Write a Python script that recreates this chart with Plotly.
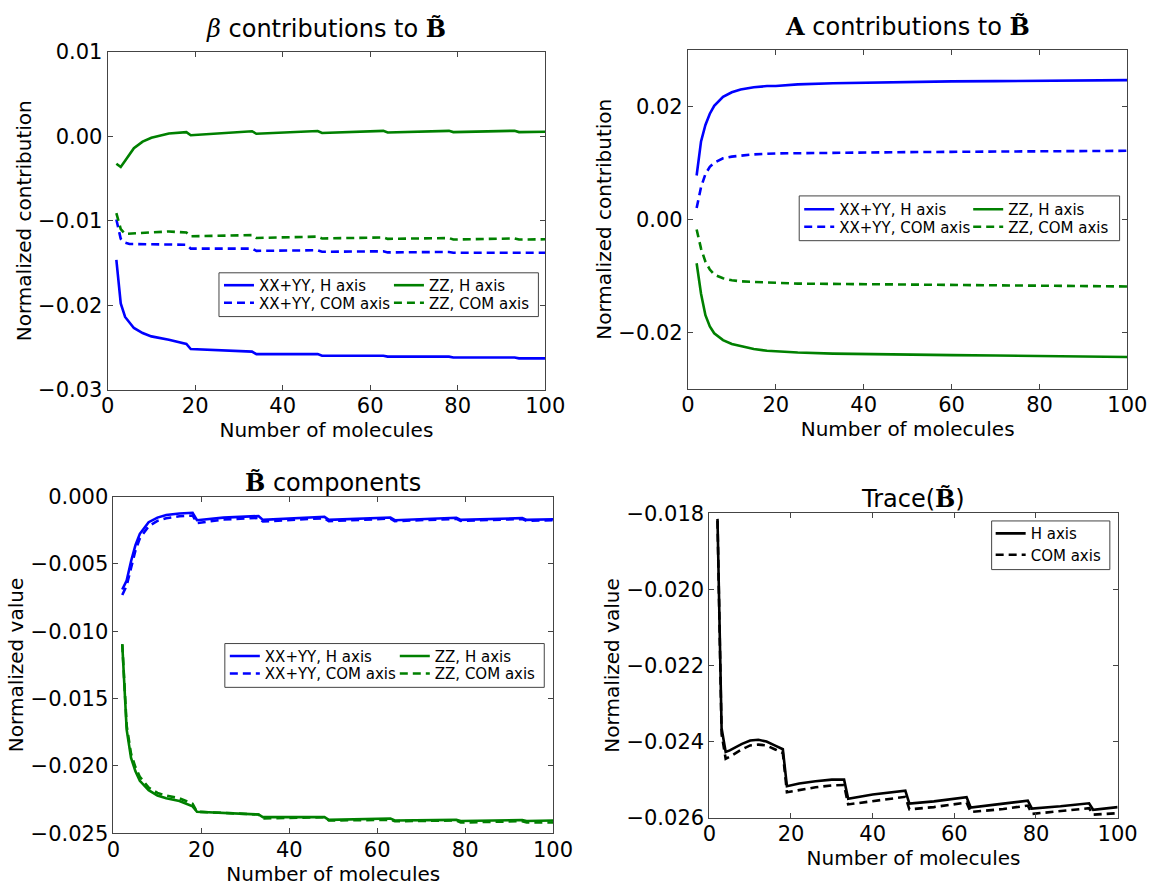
import plotly.graph_objects as go

W, H = 1165, 893
FONT = "DejaVu Sans"
BLUE, GREEN, BLACK = "#0000ff", "#008000", "#000000"

# ---------------- data ----------------
# Top-left: beta contributions
x_tl = [2, 3, 4, 5, 6, 8, 10, 14, 18, 19, 33, 34, 48, 49, 63, 64, 78, 79, 93, 94, 100]
tl_xxyy_h = [-0.01465, -0.0198, -0.0214, -0.0221, -0.0227, -0.0233, -0.0237, -0.0241, -0.0246, -0.0252,
             -0.0255, -0.0258, -0.0258, -0.0260, -0.0260, -0.0261, -0.0261, -0.0262, -0.0262, -0.0263, -0.0263]
tl_zz_h = [-0.00324, -0.00363, -0.0029, -0.0022, -0.0014, -0.00063, -0.00017, 0.00033, 0.0005, 0.00013,
           0.0006, 0.0003, 0.00063, 0.0004, 0.00065, 0.00045, 0.00065, 0.0005, 0.00066, 0.0005, 0.00055]
tl_xxyy_c = [-0.00985, -0.01215, -0.0126, -0.01276, -0.01276, -0.01276, -0.01276, -0.0128, -0.01284, -0.0133,
             -0.0133, -0.01357, -0.0135, -0.01368, -0.01362, -0.01375, -0.0137, -0.0138, -0.01375, -0.0138, -0.0138]
tl_zz_c = [-0.0091, -0.011, -0.01157, -0.01155, -0.0115, -0.01143, -0.01138, -0.01127, -0.0114, -0.01184,
           -0.0117, -0.01204, -0.01188, -0.0121, -0.01198, -0.01215, -0.01205, -0.01223, -0.0121, -0.01223, -0.0122]

# Top-right: A contributions
x_tr = [2, 3, 4, 5, 6, 8, 10, 12, 15, 18, 20, 25, 33, 40, 50, 60, 70, 80, 90, 100]
tr_xxyy_h = [0.00776, 0.0138, 0.0167, 0.0187, 0.0201, 0.0217, 0.0225, 0.0230, 0.0234, 0.0236,
             0.0236, 0.0239, 0.0241, 0.0242, 0.02437, 0.02443, 0.02448, 0.02454, 0.0246, 0.02466]
tr_xxyy_c = [0.002, 0.0057, 0.008, 0.0093, 0.0100, 0.0108, 0.0111, 0.0113, 0.0115, 0.0116,
             0.01167, 0.0117, 0.0118, 0.01185, 0.0119, 0.01195, 0.012, 0.01205, 0.0121, 0.01213]
tr_zz_c = [-0.0018, -0.0052, -0.0075, -0.0089, -0.0098, -0.01046, -0.0108, -0.011, -0.0111, -0.0112,
           -0.01126, -0.0114, -0.01145, -0.0115, -0.0116, -0.01165, -0.0117, -0.0118, -0.01185, -0.0119]
tr_zz_h = [-0.0078, -0.0132, -0.017, -0.019, -0.0202, -0.0214, -0.0221, -0.0225, -0.023, -0.0233,
           -0.0234, -0.0236, -0.0238, -0.0239, -0.024, -0.02407, -0.02414, -0.0242, -0.0243, -0.0244]

# Bottom-left: B components
x_bl = [2, 3, 4, 5, 6, 8, 10, 12, 15, 18, 19, 25, 33, 34, 48, 49, 63, 64, 78, 79, 93, 94, 100]
bl_xxyy_h = [-0.0069, -0.00623, -0.0048, -0.0036, -0.00276, -0.0019, -0.00156, -0.00137, -0.00125, -0.0012,
             -0.00175, -0.00156, -0.00144, -0.00173, -0.0015, -0.00173, -0.00155, -0.00175, -0.00157,
             -0.00173, -0.0016, -0.00173, -0.00168]
bl_xxyy_c = [-0.0073, -0.0066, -0.0053, -0.0040, -0.0031, -0.0022, -0.0018, -0.0016, -0.00146, -0.0014,
             -0.00197, -0.0017, -0.00158, -0.00185, -0.0016, -0.00182, -0.00163, -0.00182, -0.00165,
             -0.0018, -0.00166, -0.0018, -0.00175]
bl_zz_h = [-0.01096, -0.0173, -0.0194, -0.0204, -0.0211, -0.0218, -0.0222, -0.0224, -0.0226, -0.0230,
           -0.0234, -0.0235, -0.0236, -0.0238, -0.0238, -0.0240, -0.0239, -0.02405, -0.0240, -0.02408,
           -0.02402, -0.02408, -0.02405]
bl_zz_c = [-0.01096, -0.0170, -0.0191, -0.0201, -0.0208, -0.0216, -0.0220, -0.0222, -0.0224, -0.0228,
           -0.0234, -0.0235, -0.0236, -0.0239, -0.0238, -0.02405, -0.0240, -0.0241, -0.02405, -0.0242,
           -0.0241, -0.0242, -0.0242]

# Bottom-right: trace
x_br = [2, 3, 4, 5, 8, 10, 12, 14, 16, 18, 19, 22, 26, 30, 33, 34, 40, 48, 49, 55, 63, 64, 72, 78, 79,
        86, 93, 94, 100]
br_h = [-0.01815, -0.02365, -0.02427, -0.02423, -0.02406, -0.02397, -0.02395, -0.024, -0.0241, -0.0242,
        -0.02517, -0.0251, -0.02504, -0.025, -0.025, -0.0255, -0.02539, -0.02529, -0.02563, -0.02557,
        -0.02546, -0.02573, -0.02563, -0.02555, -0.02576, -0.0257, -0.02562, -0.02579, -0.02572]
br_c = [-0.0182, -0.0238, -0.02445, -0.0244, -0.0242, -0.0241, -0.02408, -0.0241, -0.0242, -0.0243,
        -0.02533, -0.02527, -0.0252, -0.02515, -0.02514, -0.02565, -0.02556, -0.02545, -0.02578, -0.02572,
        -0.0256, -0.02585, -0.02577, -0.02568, -0.0259, -0.02583, -0.02575, -0.02592, -0.02588]

LBL_XXYY_H, LBL_XXYY_C = "XX+YY, H axis", "XX+YY, COM axis"
LBL_ZZ_H, LBL_ZZ_C = "ZZ, H axis", "ZZ, COM axis"

# ---------------- layout geometry (pixels) ----------------
def fx(p):
    return p / W

def fy(p):
    return 1 - p / H

panels = {
    "1": dict(x=(103, 551), y=(41, 388), yr=[-0.03, 0.01], dt=0.01, fmt=".2f", yt="Normalized contribution"),
    "2": dict(x=(697, 1147), y=(39, 387), yr=[-0.03, 0.03], dt=0.02, fmt=".2f", yt="Normalized contribution"),
    "3": dict(x=(109, 559), y=(498, 844), yr=[-0.025, 0.0], dt=0.005, fmt=".3f", yt="Normalized value"),
    "4": dict(x=(719, 1137), y=(515, 828), yr=[-0.026, -0.018], dt=0.002, fmt=".3f", yt="Normalized value"),
}

SOLID = "solid"
DASH = "8px,5px"
LW = 2.6

fig = go.Figure()

def add(k, x, y, color, dash, name, legend):
    suffix = "" if k == "1" else k
    fig.add_trace(go.Scatter(
        x=x, y=y, mode="lines", name=name,
        line=dict(color=color, width=LW, dash=dash),
        xaxis="x" + suffix, yaxis="y" + suffix, legend=legend,
    ))

# one legend per entry so the rows can sit as tightly as in the reference
add("1", x_tl, tl_xxyy_h, BLUE, SOLID, LBL_XXYY_H, "legend")
add("1", x_tl, tl_xxyy_c, BLUE, DASH, LBL_XXYY_C, "legend2")
add("1", x_tl, tl_zz_h, GREEN, SOLID, LBL_ZZ_H, "legend3")
add("1", x_tl, tl_zz_c, GREEN, DASH, LBL_ZZ_C, "legend4")

add("2", x_tr, tr_xxyy_h, BLUE, SOLID, LBL_XXYY_H, "legend5")
add("2", x_tr, tr_xxyy_c, BLUE, DASH, LBL_XXYY_C, "legend6")
add("2", x_tr, tr_zz_h, GREEN, SOLID, LBL_ZZ_H, "legend7")
add("2", x_tr, tr_zz_c, GREEN, DASH, LBL_ZZ_C, "legend8")

add("3", x_bl, bl_xxyy_h, BLUE, SOLID, LBL_XXYY_H, "legend9")
add("3", x_bl, bl_xxyy_c, BLUE, DASH, LBL_XXYY_C, "legend10")
add("3", x_bl, bl_zz_h, GREEN, SOLID, LBL_ZZ_H, "legend11")
add("3", x_bl, bl_zz_c, GREEN, DASH, LBL_ZZ_C, "legend12")

add("4", x_br, br_h, BLACK, SOLID, "H axis", "legend13")
add("4", x_br, br_c, BLACK, DASH, "COM axis", "legend14")

FRAME = "#444444"
layout = dict(
    width=W, height=H,
    margin=dict(l=0, r=0, t=0, b=0),
    paper_bgcolor="white", plot_bgcolor="white",
    font=dict(family=FONT, size=20, color="black"),
    showlegend=True,
)

for k, p in panels.items():
    s = "" if k == "1" else k
    layout["xaxis" + s] = dict(
        domain=[fx(p["x"][0]), fx(p["x"][1])], range=[0, 100], dtick=20, tick0=0,
        anchor="y" + s, showline=True, linecolor=FRAME, linewidth=1, mirror="ticks",
        ticks="inside", ticklen=5, tickcolor=FRAME, showgrid=False, zeroline=False,
        tickfont=dict(size=21), ticklabelstandoff=-3,
        title=dict(text="Number of molecules", font=dict(size=20), standoff=0),
    )
    layout["yaxis" + s] = dict(
        domain=[fy(p["y"][1]), fy(p["y"][0])], range=p["yr"], dtick=p["dt"], tick0=0,
        tickformat=p["fmt"], anchor="x" + s, showline=True, linecolor=FRAME, linewidth=1,
        mirror="ticks", ticks="inside", ticklen=5, tickcolor=FRAME, showgrid=False, zeroline=False,
        tickfont=dict(size=21),
        title=dict(text=p["yt"], font=dict(size=20), standoff=1),
    )

BT = "<span style='font-family:DejaVu Serif'><b>B\u0303</b></span>"
titles = [
    ((103 + 551) / 2, 17, "<span style='font-family:DejaVu Serif'><i>β</i></span> contributions to " + BT),
    ((697 + 1147) / 2, 15, "<span style='font-family:DejaVu Serif'><b>A</b></span> contributions to " + BT),
    ((109 + 559) / 2, 483, BT + " components"),
    ((719 + 1137) / 2, 500, "Trace(" + BT + ")"),
]
layout["annotations"] = [
    dict(x=fx(x), y=fy(y), xref="paper", yref="paper", text=t, showarrow=False,
         xanchor="center", yanchor="middle", font=dict(size=24))
    for x, y, t in titles
]

def leg(x, y):
    return dict(x=fx(x), y=fy(y), xanchor="left", yanchor="middle", bgcolor="rgba(0,0,0,0)",
                borderwidth=0, font=dict(size=15), itemwidth=30, orientation="v")

# (text start x - 40, row centre y)
legend_pos = [
    (217, 281), (217, 299), (391, 281), (391, 299),
    (811, 203), (811, 221), (984, 203), (984, 221),
    (223, 662), (223, 680), (397, 662), (397, 680),
    (1007, 536), (1007, 558),
]
for i, (lx, ly) in enumerate(legend_pos):
    name = "legend" if i == 0 else "legend%d" % (i + 1)
    layout[name] = leg(lx, ly)

boxes = [(217, 268, 544, 313), (811, 189, 1139, 235), (223, 649, 550, 694), (1008, 523, 1129, 573)]
layout["shapes"] = [
    dict(type="rect", xref="paper", yref="paper", x0=fx(a), x1=fx(c), y0=fy(d), y1=fy(b),
         line=dict(color=FRAME, width=1), fillcolor="rgba(0,0,0,0)", layer="below")
    for a, b, c, d in boxes
]

fig.update_layout(**layout)
fig.write_html("out.html")
